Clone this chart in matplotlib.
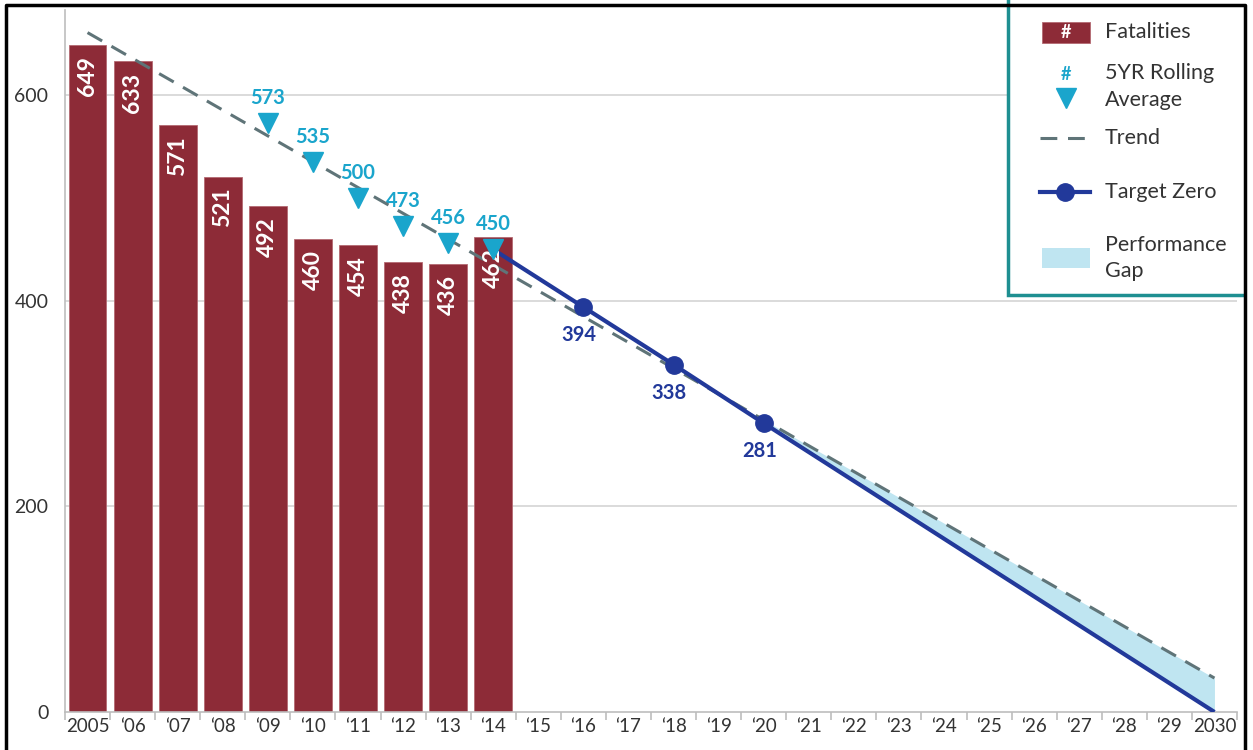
import numpy as np
import matplotlib
matplotlib.use("Agg")
from matplotlib import pyplot as plt
from matplotlib.patches import Rectangle

plt.rcParams['font.family'] = ['Lato', 'DejaVu Sans']

# data
years = list(range(2005, 2031))
year_labels = ['2005'] + ['\u2018%02d' % (y % 100) for y in range(2006, 2030)] + ['2030']

fatal_years = list(range(2005, 2015))
fatalities = [649, 633, 571, 521, 492, 460, 454, 438, 436, 462]

avg_years = [2009, 2010, 2011, 2012, 2013, 2014]
rolling_avg = [573, 535, 500, 473, 456, 450]

target_years = [2014, 2016, 2018, 2020, 2030]
target_vals = [450, 394, 338, 281, 0]
target_labeled = [2016, 2018, 2020]

trend_years = [2005, 2030]
trend_vals = [661, 33]

MAROON = '#8d2b37'
CYAN = '#1aa5cc'
NAVY = '#22399a'
TREND = '#5f7478'
GAP = '#bfe5f1'
TEAL = '#1e8f91'

def xpos(y):
    return years.index(y)

fig = plt.figure(figsize=(12.53, 7.5), dpi=100)
ax = fig.add_axes([65/1253, 1 - 712/750, (1237 - 65)/1253, (712 - 10)/750])

ax.set_xlim(-0.5, len(years) - 0.5)
ax.set_ylim(0, 683)

# grid
for g in [200, 400, 600]:
    ax.axhline(g, color='#d4d4d4', lw=1.2, zorder=0)

# bars
bx = [xpos(y) for y in fatal_years]
ax.bar(bx, fatalities, width=0.84, color=MAROON, edgecolor='#b46a72', lw=0.6, zorder=2)
for x, v in zip(bx, fatalities):
    ax.annotate(str(v), (x, v), xytext=(0, -8), textcoords='offset points',
                rotation=90, ha='center', va='top', color='white',
                fontsize=16.5, fontweight='bold', zorder=5)

# performance gap
tx = [xpos(y) for y in trend_years]
gx = np.array([xpos(target_years[0]), xpos(target_years[-1])], dtype=float)
trend_at_gx = np.interp(gx, tx, trend_vals)
target_at_gx = np.array([target_vals[0], target_vals[-1]], dtype=float)
ax.fill_between(gx, target_at_gx, trend_at_gx, where=trend_at_gx > target_at_gx,
                interpolate=True, color=GAP, lw=0, zorder=1)

# trend
ax.plot(tx, trend_vals, color=TREND, lw=2.2, dashes=(5.5, 3.5), zorder=4)

# target zero
tgx = [xpos(y) for y in target_years]
ax.plot(tgx, target_vals, color=NAVY, lw=3, zorder=4, solid_capstyle='butt')
for y in target_labeled:
    v = target_vals[target_years.index(y)]
    ax.plot(xpos(y), v, 'o', color=NAVY, ms=12.5, zorder=6)
    ax.annotate(str(v), (xpos(y), v), xytext=(-3, -13), textcoords='offset points',
                ha='center', va='top', color=NAVY, fontsize=14.5, fontweight='bold')

# rolling average
ax.plot([xpos(y) for y in avg_years], rolling_avg, 'v', color=CYAN, ms=15, ls='none', zorder=6)
for y, v in zip(avg_years, rolling_avg):
    ax.annotate(str(v), (xpos(y), v), xytext=(0, 11), textcoords='offset points',
                ha='center', va='bottom', color=CYAN, fontsize=14.5, fontweight='bold')

# axes styling
for s in ['top', 'right']:
    ax.spines[s].set_visible(False)
ax.spines['left'].set_color('#bdbdbd')
ax.spines['bottom'].set_color('#bdbdbd')
ax.spines['left'].set_linewidth(1.2)
ax.spines['bottom'].set_linewidth(1.2)
ax.set_yticks([0, 200, 400, 600])
ax.tick_params(axis='y', length=0, labelsize=14, labelcolor='#333333', pad=12)
ax.set_xticks(range(len(years)))
ax.set_xticklabels(year_labels)
ax.set_xticks(np.arange(-0.5, len(years)), minor=True)
ax.tick_params(axis='x', which='major', length=0, labelsize=13.5, labelcolor='#333333', pad=4)
ax.tick_params(axis='x', which='minor', length=6, color='#bdbdbd', width=1.2)

# legend drawn in pixel coordinates
lg = fig.add_axes([0, 0, 1, 1], zorder=10)
lg.set_xlim(0, 1253)
lg.set_ylim(750, 0)
lg.axis('off')
lg.add_patch(Rectangle((1008, -10), 300, 305, facecolor='white', edgecolor=TEAL, lw=2.5))
fs = 15.5
tc = '#333333'
lg.add_patch(Rectangle((1042, 22), 48, 21, facecolor=MAROON, edgecolor='#b46a72', lw=0.6))
lg.text(1066, 33, '#', color='white', ha='center', va='center', fontsize=13, fontweight='bold')
lg.text(1105, 32, 'Fatalities', color=tc, ha='left', va='center', fontsize=fs)
lg.text(1066, 75, '#', color=CYAN, ha='center', va='center', fontsize=13, fontweight='bold')
lg.plot(1066, 98, 'v', color=CYAN, ms=15)
lg.text(1105, 73, '5YR Rolling', color=tc, ha='left', va='center', fontsize=fs)
lg.text(1105, 100, 'Average', color=tc, ha='left', va='center', fontsize=fs)
lg.plot([1040, 1090], [138, 138], color=TREND, lw=2.2, dashes=(5.5, 3.5))
lg.text(1105, 138, 'Trend', color=tc, ha='left', va='center', fontsize=fs)
lg.plot([1040, 1090], [192, 192], color=NAVY, lw=3)
lg.plot(1065, 192, 'o', color=NAVY, ms=12.5)
lg.text(1105, 192, 'Target Zero', color=tc, ha='left', va='center', fontsize=fs)
lg.add_patch(Rectangle((1042, 248), 48, 20, facecolor=GAP, edgecolor='none'))
lg.text(1105, 245, 'Performance', color=tc, ha='left', va='center', fontsize=fs)
lg.text(1105, 271, 'Gap', color=tc, ha='left', va='center', fontsize=fs)

# outer frame
lg.plot([6, 6, 1245, 1245], [760, 5, 5, 760], color='black', lw=2.5, clip_on=False)
lg.add_patch(Rectangle((1246.5, 0), 10, 750, facecolor='white', edgecolor='none', clip_on=False))

fig.savefig('out.png', dpi=100)
